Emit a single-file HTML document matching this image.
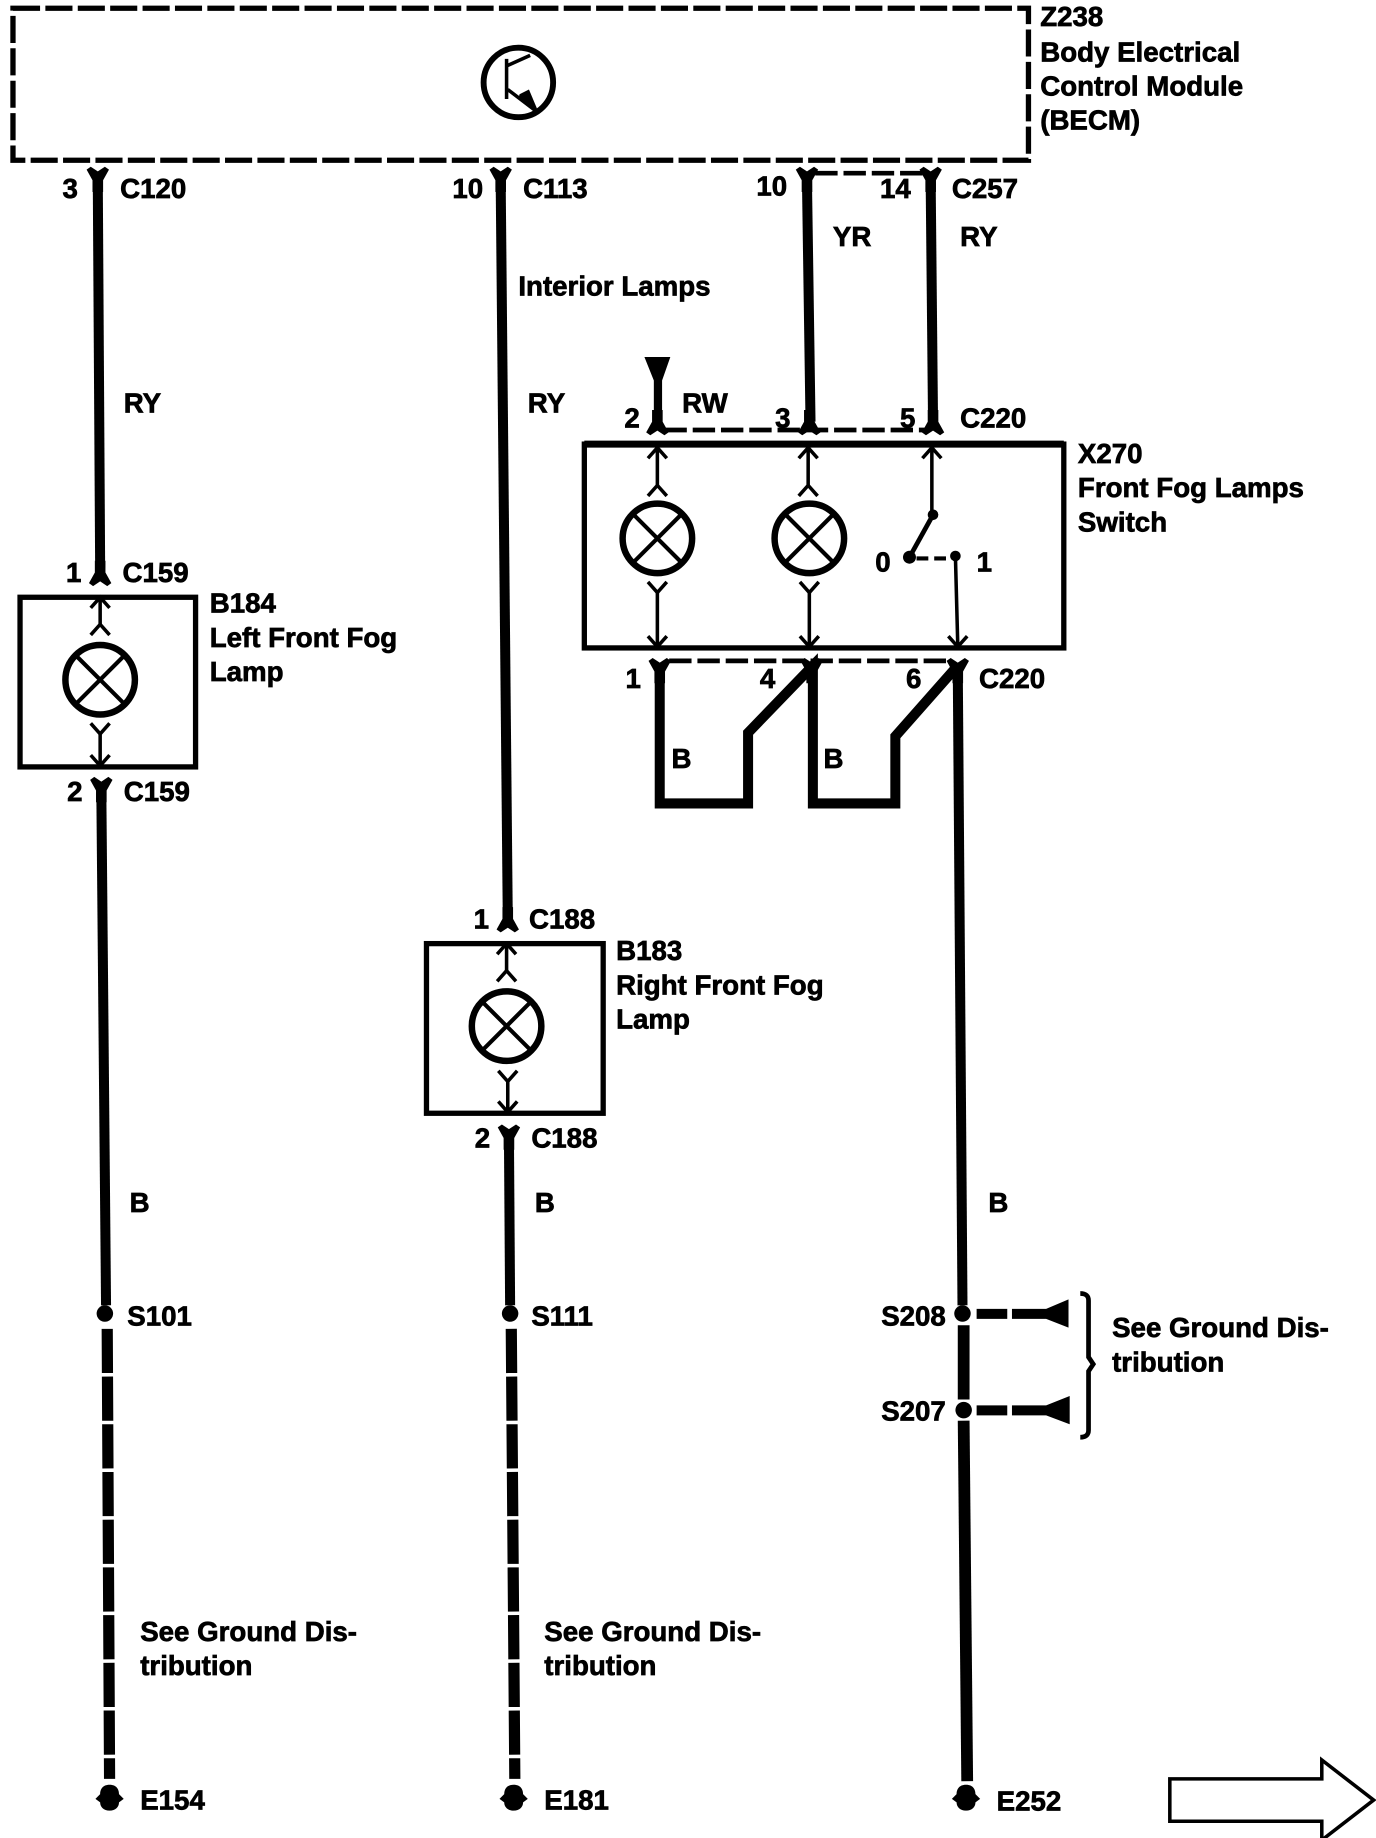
<!DOCTYPE html>
<html><head><meta charset="utf-8"><style>
html,body{margin:0;padding:0;background:#fff}
svg{display:block}
text{font-family:"Liberation Sans",sans-serif;font-weight:bold;font-size:23.5px;fill:#000;stroke:#000;stroke-width:.6px}
.w{fill:none;stroke:#000;stroke-width:8.5}
.t{fill:none;stroke:#000;stroke-width:3}
.b{fill:#fff;stroke:#000;stroke-width:4.5}
.d{fill:none;stroke:#000;stroke-width:4;stroke-dasharray:19 5}
</style></head><body>
<svg xmlns="http://www.w3.org/2000/svg" width="1376" height="1838" viewBox="0 0 1168 1560.2">
<defs>
<path id="up" d="M-8,9L0,0L8,9" fill="none" stroke="#000" stroke-width="3"/>
<path id="dn" d="M-8,-9L0,0L8,-9" fill="none" stroke="#000" stroke-width="3"/>
<path id="Y" d="M-9.5,-7L-6,-9.5L0,-5.5L6,-9.5L9.5,-7L4.5,2V12H-4.5V2Z"/>
<path id="U" d="M-9.5,7L-6,9.5L0,5.5L6,9.5L9.5,7L4.5,-2V-12H-4.5V-2Z"/>
<g id="lamp"><circle r="29.5" fill="#fff" stroke="#000" stroke-width="5.5"/><path d="M-21,-21L21,21M21,-21L-21,21" stroke="#000" stroke-width="3.5"/></g>
<path id="gnd" d="M0,-12C6,-12 8,-8 8,-4L12,0L8,3C8,7 5,10 0,10C-5,10 -8,7 -8,3L-12,0L-8,-4C-8,-8 -6,-12 0,-12Z"/>
</defs>
<rect width="1168" height="1561" fill="#fff"/>

<!-- BECM -->
<rect x="11" y="7" width="862" height="129" fill="none" stroke="#000" stroke-width="4.5" stroke-dasharray="23 4.5"/>
<circle cx="440" cy="70" r="29.5" fill="none" stroke="#000" stroke-width="5"/>
<path d="M430,50V84M430,56L450,47M431,76L456,95" fill="none" stroke="#000" stroke-width="3"/>
<path d="M441,80L449,76L457,95L440,84Z"/>

<!-- Wire 1 -->
<path class="w" d="M83,155L85,482"/>
<use href="#Y" x="83" y="151"/>
<use href="#U" x="85" y="488"/>
<rect class="b" x="17" y="507" width="149" height="144"/>
<path class="t" d="M85,509V530M85,622V650"/>
<use href="#up" x="85" y="507"/><use href="#up" x="85" y="530"/>
<use href="#dn" x="85" y="623"/><use href="#dn" x="85" y="650"/>
<use href="#lamp" x="85" y="577"/>
<use href="#Y" x="86" y="669"/>
<path class="w" d="M86,672L90,1108"/>
<circle cx="89" cy="1115" r="7"/>
<path class="w" d="M91,1128L93,1510" style="stroke-width:9.5;stroke-dasharray:37.5 3"/>
<use href="#gnd" x="93" y="1527"/>

<!-- Wire 2 -->
<path class="w" d="M425,155L431,778"/>
<use href="#Y" x="425" y="151"/>
<use href="#U" x="431" y="782"/>
<rect class="b" x="362" y="801" width="150" height="144"/>
<path class="t" d="M430,803V824M431,918V944"/>
<use href="#up" x="430" y="801"/><use href="#up" x="430" y="824"/>
<use href="#dn" x="431" y="918"/><use href="#dn" x="431" y="944"/>
<use href="#lamp" x="430" y="871"/>
<use href="#Y" x="432" y="964"/>
<path class="w" d="M432,966L433,1108"/>
<circle cx="433" cy="1115" r="7"/>
<path class="w" d="M434,1128L437,1510" style="stroke-width:9.5;stroke-dasharray:37.5 3"/>
<use href="#gnd" x="436" y="1527"/>

<!-- Wires 3 / 4 -->
<path class="w" d="M685,155L688,358"/>
<path class="w" d="M790,155L792,358"/>
<use href="#Y" x="685" y="151"/><use href="#Y" x="790" y="151"/>
<path class="d" d="M692,147H786"/>
<path d="M547,303H569L562,323V358H555V323Z"/>
<path class="d" d="M564,365H788"/>
<use href="#U" x="558" y="360"/><use href="#U" x="687" y="360"/><use href="#U" x="792" y="360"/>

<!-- X270 -->
<rect class="b" x="496" y="377" width="407" height="173"/>
<path d="M496,377H903" stroke="#000" stroke-width="6"/>
<path class="t" d="M558,380V412M558,503V548M686,380V412M687,503V548M791,380V437M811,472L813,548"/>
<use href="#up" x="558" y="380"/><use href="#up" x="558" y="412"/>
<use href="#up" x="686" y="380"/><use href="#up" x="686" y="412"/>
<use href="#up" x="791" y="380"/>
<use href="#dn" x="558" y="503"/><use href="#dn" x="558" y="549"/>
<use href="#dn" x="687" y="503"/><use href="#dn" x="687" y="549"/>
<use href="#dn" x="813" y="549"/>
<use href="#lamp" x="558" y="457"/><use href="#lamp" x="687" y="457"/>
<circle cx="792" cy="437" r="4.5"/><circle cx="772" cy="473" r="5.5"/><circle cx="811" cy="472" r="4.5"/>
<path d="M792,437L772,473" stroke="#000" stroke-width="4"/>
<path d="M778,474H806" stroke="#000" stroke-width="3.5" stroke-dasharray="10 5"/>

<!-- Bottom connector -->
<path class="d" d="M568,561H806"/>
<use href="#Y" x="560" y="568"/><use href="#Y" x="689" y="568"/><use href="#Y" x="813" y="568"/>
<path class="w" d="M560,568V682H635V622L690,565V682H760V625L813,565"/>
<path class="w" d="M813,568L817,1108"/>
<circle cx="817" cy="1115" r="7"/>
<path class="w" d="M818,1125V1188" style="stroke-width:10"/>
<circle cx="818" cy="1197" r="7"/>
<path class="w" d="M818,1206L821,1512" style="stroke-width:10"/>
<use href="#gnd" x="820" y="1527"/>
<path d="M829,1111H855V1119.5H829ZM859,1111H888L907,1103V1127L888,1119.5H859Z"/>
<path d="M829,1193H855V1201.5H829ZM859,1193H888L908,1185V1209L888,1201.5H859Z"/>
<path d="M917,1098Q924,1098 924,1104V1152L928,1158L924,1164V1214Q924,1220 917,1220" fill="none" stroke="#000" stroke-width="4"/>

<!-- Big arrow -->
<path d="M993,1510H1122V1494L1166,1528L1122,1562V1546H993Z" fill="#fff" stroke="#000" stroke-width="3"/>

<!-- Text -->
<text x="883" y="22">Z238</text>
<text x="883" y="52">Body Electrical</text>
<text x="883" y="81">Control Module</text>
<text x="883" y="110">(BECM)</text>
<text x="53" y="168">3</text><text x="102" y="168">C120</text>
<text x="384" y="168">10</text><text x="444" y="168">C113</text>
<text x="642" y="166">10</text><text x="747" y="168">14</text><text x="808" y="168">C257</text>
<text x="707" y="209">YR</text><text x="815" y="209">RY</text>
<text x="440" y="251">Interior Lamps</text>
<text x="105" y="350">RY</text><text x="448" y="350">RY</text><text x="579" y="350">RW</text>
<text x="530" y="363">2</text><text x="658" y="363">3</text><text x="764" y="363">5</text><text x="815" y="363">C220</text>
<text x="915" y="393">X270</text><text x="915" y="422">Front Fog Lamps</text><text x="915" y="451">Switch</text>
<text x="743" y="485">0</text><text x="829" y="485">1</text>
<text x="531" y="584">1</text><text x="645" y="584">4</text><text x="769" y="584">6</text><text x="831" y="584">C220</text>
<text x="570" y="652">B</text><text x="699" y="652">B</text>
<text x="56" y="494">1</text><text x="104" y="494">C159</text>
<text x="178" y="520">B184</text><text x="178" y="549">Left Front Fog</text><text x="178" y="578">Lamp</text>
<text x="57" y="680">2</text><text x="105" y="680">C159</text>
<text x="402" y="788">1</text><text x="449" y="788">C188</text>
<text x="523" y="815">B183</text><text x="523" y="844">Right Front Fog</text><text x="523" y="873">Lamp</text>
<text x="403" y="974">2</text><text x="451" y="974">C188</text>
<text x="110" y="1029">B</text><text x="454" y="1029">B</text><text x="839" y="1029">B</text>
<text x="108" y="1125">S101</text><text x="451" y="1125">S111</text>
<text x="748" y="1125">S208</text><text x="748" y="1206">S207</text>
<text x="944" y="1135">See Ground Dis-</text><text x="944" y="1164">tribution</text>
<text x="119" y="1393">See Ground Dis-</text><text x="119" y="1422">tribution</text>
<text x="462" y="1393">See Ground Dis-</text><text x="462" y="1422">tribution</text>
<text x="119" y="1536">E154</text><text x="462" y="1536">E181</text><text x="846" y="1537">E252</text>
</svg>
</body></html>
